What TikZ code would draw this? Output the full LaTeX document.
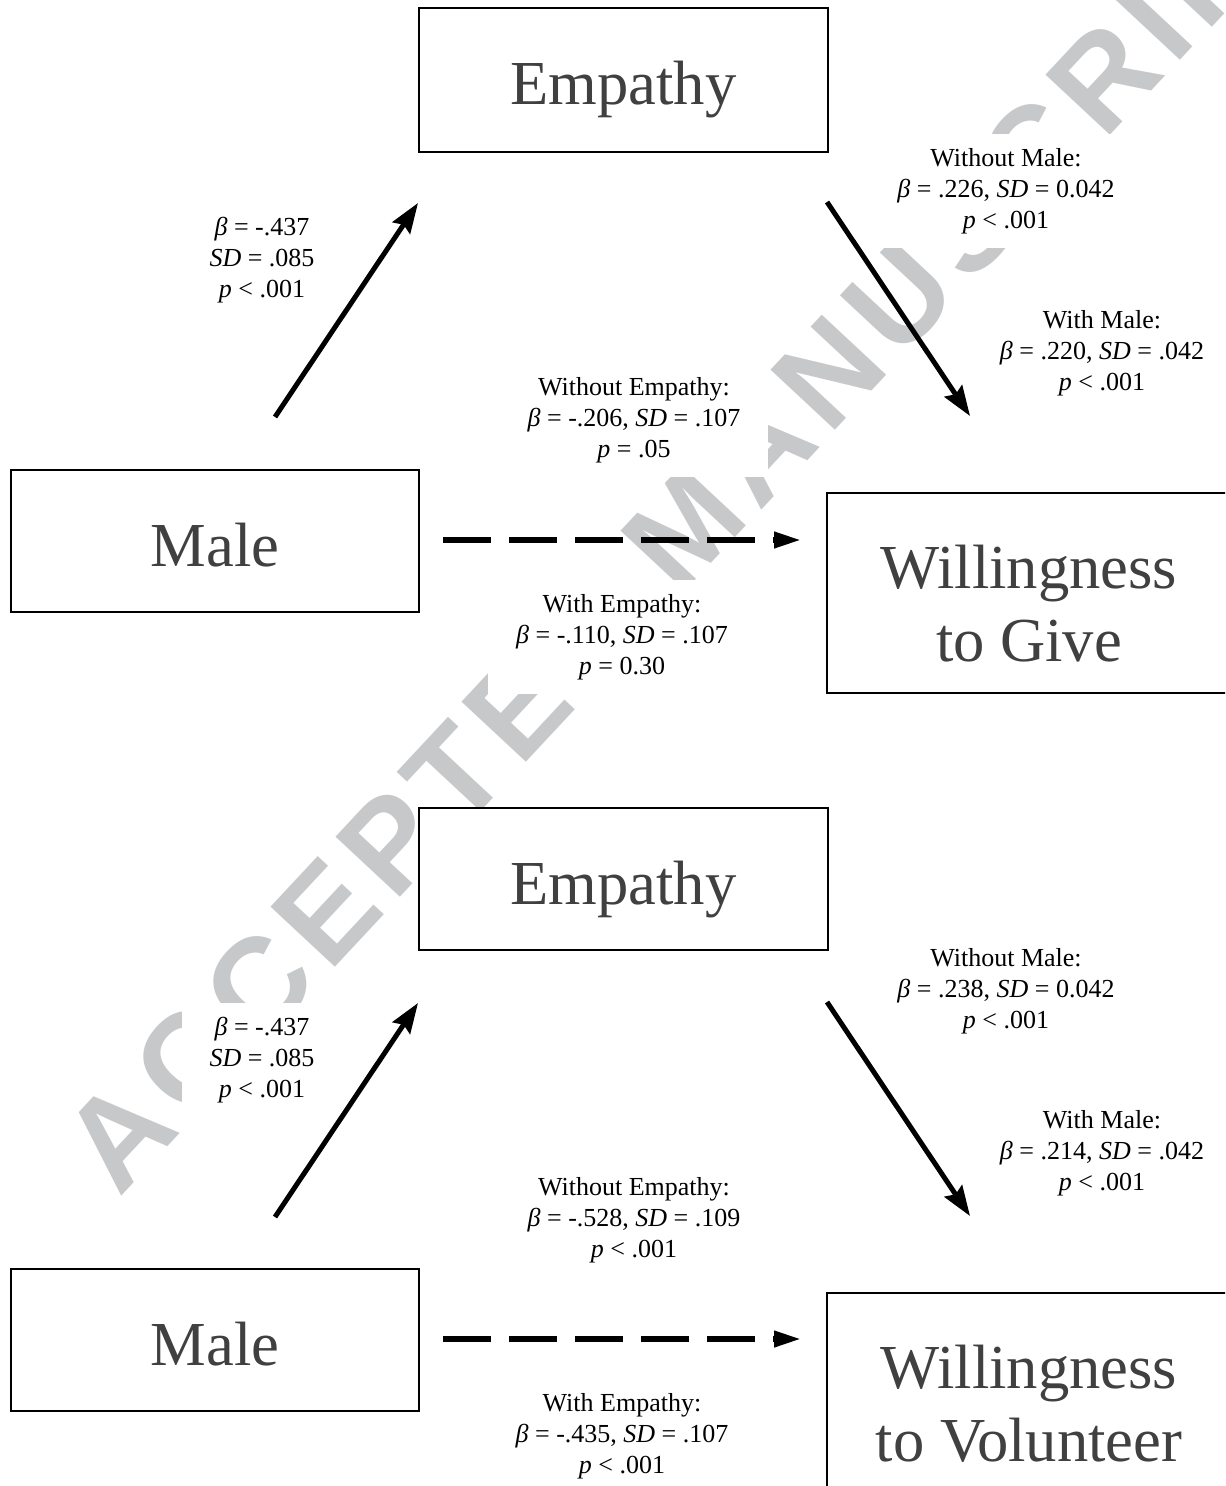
\documentclass[tikz,border=0pt]{standalone}
\usepackage{fontspec}
\setmainfont{Liberation Serif}
\newfontfamily\markfont{Liberation Sans}[LetterSpace=8]
\usetikzlibrary{arrows.meta}

\definecolor{boxtext}{RGB}{64,64,64}
\definecolor{markgray}{RGB}{199,200,202}

\tikzset{
  varbox/.style={draw, line width=1.1pt, fill=white, inner sep=0pt, text=boxtext,
    font=\fontsize{31.3pt}{36.5pt}\selectfont},
  onebox/.style={varbox, text height=25pt, text depth=0pt},
  statlab/.style={fill=white, align=center, inner xsep=14pt, inner ysep=7pt,
    font=\fontsize{13pt}{15.5pt}\selectfont},
  effect/.style={line width=2.5pt, -{Stealth[length=15pt, width=10.5pt, inset=2pt]}},
  direct/.style={line width=3.25pt, dash pattern=on 23.75pt off 9.25pt,
    -{Triangle[length=14pt, width=7.5pt]}}
}

\begin{document}
\begin{tikzpicture}[x=0.5pt, y=-0.5pt]
  \useasboundingbox (0,0) rectangle (1225,1486);
  \clip (0,0) rectangle (1225,1486);
  \fill[white] (0,0) rectangle (1225,1486);

  % watermark
  \node[text=markgray, rotate=47, inner sep=0pt, font=\markfont\bfseries\fontsize{64pt}{64pt}\selectfont] (mark) at (690,522) {ACCEPTED MANUSCRIPT};

  % giving
  \node[statlab] (a1) at (262,260) {\textit{β} = -.437\\ \textit{SD} = .085\\ \textit{p} < .001};
  \node[statlab] (b1) at (1006,191) {Without Male:\\ \textit{β} = .226, \textit{SD} = 0.042\\ \textit{p} < .001};
  \node[statlab] (b1m) at (1102,353) {With Male:\\ \textit{β} = .220, \textit{SD} = .042\\ \textit{p} < .001};
  \node[statlab] (c1) at (634,420) {Without Empathy:\\ \textit{β} = -.206, \textit{SD} = .107\\ \textit{p} = .05};
  \node[statlab] (c1e) at (622,637) {With Empathy:\\ \textit{β} = -.110, \textit{SD} = .107\\ \textit{p} = 0.30};

  \node[onebox, minimum width=204.5pt, minimum height=72pt] (emp1) at (623.5,80) {Empathy};
  \node[onebox, minimum width=204pt, minimum height=71pt] (male1) at (215,541) {Male};
  \node[varbox, align=center, minimum width=202pt, minimum height=100pt] (give) at (1029,593) {\rule{0pt}{32.5pt}Willingness\\to Give};

  \coordinate (m1up) at (275,417);
  \coordinate (e1in) at (418,203);
  \coordinate (e1out) at (827,202);
  \coordinate (g1in) at (970,416);
  \coordinate (m1out) at (443,540);
  \coordinate (g1dash) at (802,540);
  \draw[effect] (m1up) -- (e1in);
  \draw[effect] (e1out) -- (g1in);
  \draw[direct] (m1out) -- (g1dash);

  % volunteering
  \node[statlab] (a2) at (262,1060) {\textit{β} = -.437\\ \textit{SD} = .085\\ \textit{p} < .001};
  \node[statlab] (b2) at (1006,991) {Without Male:\\ \textit{β} = .238, \textit{SD} = 0.042\\ \textit{p} < .001};
  \node[statlab] (b2m) at (1102,1153) {With Male:\\ \textit{β} = .214, \textit{SD} = .042\\ \textit{p} < .001};
  \node[statlab] (c2) at (634,1220) {Without Empathy:\\ \textit{β} = -.528, \textit{SD} = .109\\ \textit{p} < .001};
  \node[statlab] (c2e) at (622,1436) {With Empathy:\\ \textit{β} = -.435, \textit{SD} = .107\\ \textit{p} < .001};

  \node[onebox, minimum width=204.5pt, minimum height=71pt] (emp2) at (623.5,879) {Empathy};
  \node[onebox, minimum width=204pt, minimum height=71pt] (male2) at (215,1340) {Male};
  \node[varbox, align=center, minimum width=202pt, minimum height=100pt] (vol) at (1029,1393) {\rule{0pt}{32.5pt}Willingness\\to Volunteer};

  \coordinate (m2up) at (275,1217);
  \coordinate (e2in) at (418,1003);
  \coordinate (e2out) at (827,1002);
  \coordinate (v2in) at (970,1216);
  \coordinate (m2out) at (443,1339);
  \coordinate (v2dash) at (802,1339);
  \draw[effect] (m2up) -- (e2in);
  \draw[effect] (e2out) -- (v2in);
  \draw[direct] (m2out) -- (v2dash);
\end{tikzpicture}
\end{document}
